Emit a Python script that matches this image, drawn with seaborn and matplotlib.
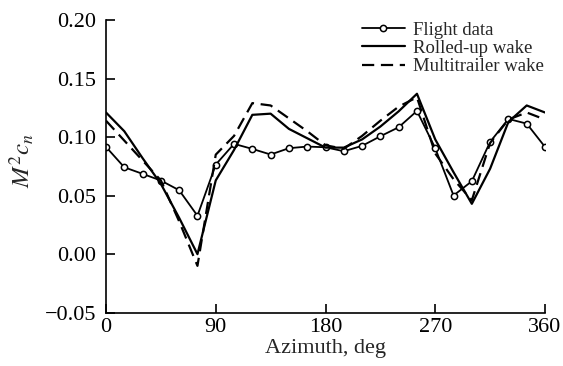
import matplotlib
matplotlib.use("Agg")
import matplotlib.pyplot as plt
import seaborn as sns

# Azimuth stations (deg)
azimuth = [0, 15, 30, 45, 60, 75, 90, 105, 120, 135, 150, 165, 180,
           195, 210, 225, 240, 255, 270, 285, 300, 315, 330, 345, 360]

# Normal force coefficient M^2 c_n
flight_data = [0.0916, 0.0742, 0.0686, 0.0629, 0.0546, 0.0328, 0.0765,
               0.0942, 0.0899, 0.0851, 0.0905, 0.0919, 0.0913, 0.0879,
               0.0925, 0.1007, 0.1084, 0.1223, 0.0905, 0.0501, 0.0623,
               0.0959, 0.1155, 0.1115, 0.0916]
rolled_up_wake = [0.121, 0.105, 0.082, 0.060, 0.031, 0.000, 0.063,
                  0.089, 0.119, 0.120, 0.107, 0.099, 0.091, 0.091,
                  0.098, 0.109, 0.122, 0.137, 0.098, 0.070, 0.043,
                  0.073, 0.113, 0.127, 0.121]
multitrailer_wake = [0.114, 0.097, 0.080, 0.063, 0.028, -0.010, 0.085,
                     0.101, 0.129, 0.127, 0.116, 0.105, 0.093, 0.090,
                     0.101, 0.114, 0.126, 0.134, 0.086, 0.064, 0.046,
                     0.095, 0.115, 0.121, 0.115]

x_ticks = [0, 90, 180, 270, 360]
y_ticks = [-0.05, 0.00, 0.05, 0.10, 0.15, 0.20]

sns.set_style("ticks")
plt.rcParams["font.family"] = ["Liberation Serif", "DejaVu Serif"]
plt.rcParams["mathtext.fontset"] = "stix"

fig = plt.figure(figsize=(5.63, 3.66), dpi=100)
ax = fig.add_axes([106 / 563, 1 - 312.7 / 366, 439 / 563, 292.7 / 366])

lw = 1.6
sns.lineplot(x=azimuth, y=flight_data, ax=ax, color="black", lw=1.3,
             marker="o", markersize=4.5, markerfacecolor="white",
             markeredgecolor="black", markeredgewidth=1.1,
             label="Flight data")
sns.lineplot(x=azimuth, y=rolled_up_wake, ax=ax, color="black", lw=lw,
             label="Rolled-up wake")
sns.lineplot(x=azimuth, y=multitrailer_wake, ax=ax, color="black", lw=lw,
             linestyle=(0, (5.5, 3)), label="Multitrailer wake")

ax.set_xlim(0, 360)
ax.set_ylim(-0.05, 0.20)
ax.set_xticks(x_ticks)
ax.set_yticks(y_ticks)
ax.set_yticklabels(["\u22120.05" if v < 0 else f"{v:.2f}" for v in y_ticks])

for side in ("top", "right"):
    ax.spines[side].set_visible(False)
for side in ("left", "bottom"):
    ax.spines[side].set_linewidth(1.2)
    ax.spines[side].set_color("black")

ax.tick_params(axis="both", direction="in", length=6.5, width=1.2,
               colors="black", labelsize=16)
ax.tick_params(axis="y", pad=7)
ax.tick_params(axis="x", pad=4)

ax.set_xlabel("Azimuth, deg", fontsize=16, labelpad=1)
ax.set_ylabel("$M^2c_n$", fontsize=18)
ax.yaxis.set_label_coords(-0.16, 0.52)

leg = ax.legend(loc="upper left", bbox_to_anchor=(0.583, 0.995),
                frameon=False, fontsize=13.5, handlelength=2.3,
                handletextpad=0.4, labelspacing=0.06, borderpad=0,
                borderaxespad=0)

fig.savefig("out.png", dpi=100)
